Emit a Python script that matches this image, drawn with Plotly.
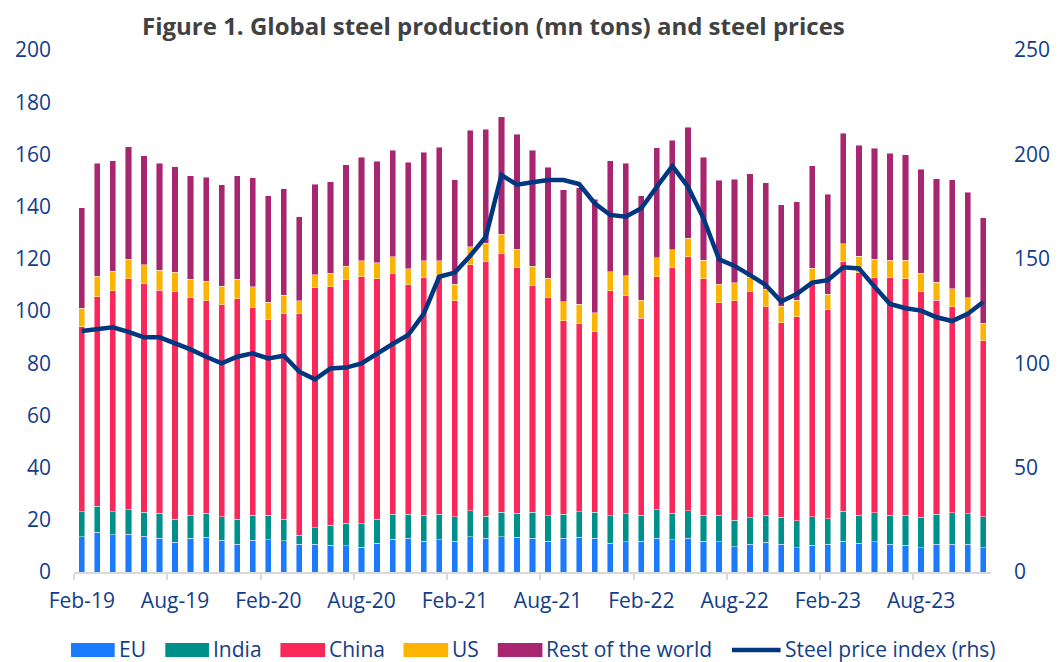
import plotly.graph_objects as go

months = ["Feb-19", "Mar-19", "Apr-19", "May-19", "Jun-19", "Jul-19", "Aug-19", "Sep-19", "Oct-19", "Nov-19", "Dec-19",
          "Jan-20", "Feb-20", "Mar-20", "Apr-20", "May-20", "Jun-20", "Jul-20", "Aug-20", "Sep-20", "Oct-20", "Nov-20", "Dec-20",
          "Jan-21", "Feb-21", "Mar-21", "Apr-21", "May-21", "Jun-21", "Jul-21", "Aug-21", "Sep-21", "Oct-21", "Nov-21", "Dec-21",
          "Jan-22", "Feb-22", "Mar-22", "Apr-22", "May-22", "Jun-22", "Jul-22", "Aug-22", "Sep-22", "Oct-22", "Nov-22", "Dec-22",
          "Jan-23", "Feb-23", "Mar-23", "Apr-23", "May-23", "Jun-23", "Jul-23", "Aug-23", "Sep-23", "Oct-23", "Nov-23", "Dec-23"]

tick_labels = ["Feb-19", "Aug-19", "Feb-20", "Aug-20", "Feb-21", "Aug-21", "Feb-22", "Aug-22", "Feb-23", "Aug-23"]

eu = [13.5, 15.2, 14.2, 14.4, 13.7, 12.9, 11.4, 12.9, 13.3, 12.1, 10.7, 12.1, 12.3, 12.0, 10.7, 10.7, 10.2, 10.0, 9.5, 11.1,
      12.6, 12.9, 11.8, 12.3, 11.8, 13.5, 12.9, 13.5, 13.3, 12.9, 11.8, 12.9, 13.4, 12.9, 11.1, 11.5, 11.8, 12.9, 12.3, 12.9,
      11.8, 11.6, 9.7, 10.7, 11.4, 10.6, 9.2, 10.2, 10.6, 11.8, 11.0, 11.6, 10.7, 10.2, 9.2, 10.7, 10.7, 10.7, 9.2]
india = [9.5, 10.0, 8.8, 9.4, 9.2, 9.6, 8.8, 8.8, 9.2, 9.0, 9.5, 9.6, 9.4, 8.2, 3.3, 6.2, 7.7, 8.6, 8.9, 9.1,
         9.6, 9.3, 9.9, 9.9, 9.3, 10.0, 8.4, 9.4, 9.2, 10.0, 9.8, 9.3, 9.7, 10.0, 10.5, 10.8, 10.0, 10.9, 10.2, 10.6,
         10.0, 10.2, 10.2, 10.0, 10.3, 10.3, 10.5, 11.0, 9.8, 11.5, 10.7, 11.1, 11.0, 11.5, 11.7, 11.5, 12.0, 11.6, 12.0]
china = [70.9, 80.3, 84.8, 88.5, 87.6, 85.5, 87.2, 83.4, 81.5, 81.3, 84.4, 79.8, 75.0, 78.8, 85.0, 92.0, 91.4, 93.4, 94.7, 92.2,
         92.2, 87.9, 91.1, 91.5, 82.9, 94.2, 97.6, 99.2, 94.1, 86.8, 83.5, 74.1, 72.0, 69.1, 86.2, 83.8, 75.5, 89.3, 94.0, 97.3,
         90.6, 81.4, 84.1, 86.8, 80.0, 74.6, 78.1, 89.7, 80.0, 95.5, 93.0, 90.1, 91.1, 90.7, 86.5, 82.0, 79.0, 76.8, 67.4]
us = [7.2, 7.8, 7.4, 7.5, 7.2, 7.6, 7.5, 7.0, 7.4, 7.1, 7.5, 7.7, 6.7, 7.1, 4.9, 4.9, 5.1, 5.2, 6.1, 6.0,
      6.3, 6.0, 6.4, 5.5, 6.3, 6.9, 7.0, 7.3, 7.0, 7.4, 7.4, 7.3, 7.5, 7.4, 7.3, 7.4, 6.8, 7.3, 7.0, 7.0,
      7.0, 7.0, 6.9, 5.5, 6.7, 6.4, 6.4, 5.4, 6.1, 6.9, 6.3, 7.0, 6.7, 7.0, 7.0, 6.8, 6.8, 5.9, 6.8]
rest_of_world = [38.5, 43.3, 42.4, 43.2, 41.8, 41.1, 40.4, 39.7, 39.8, 38.9, 39.7, 41.8, 40.7, 40.8, 32.2, 34.7, 35.2, 38.9, 39.8, 38.9,
                 40.9, 40.9, 41.7, 43.6, 39.9, 44.6, 43.7, 45.1, 44.2, 44.5, 42.5, 42.8, 44.7, 43.5, 42.5, 43.2, 40.0, 42.1, 42.0, 42.7,
                 39.6, 39.9, 39.5, 39.6, 40.8, 38.8, 37.7, 39.4, 38.2, 42.4, 42.6, 42.5, 41.0, 40.5, 39.9, 39.7, 41.8, 40.5, 40.3]
steel_price = [115.4, 116.2, 117.2, 115.0, 112.4, 112.4, 109.5, 106.6, 103.1, 99.9, 103.1, 104.7, 102.3, 103.6, 95.9, 92.3,
               97.5, 97.9, 99.9, 104.7, 109.2, 113.5, 123.6, 141.4, 143.4, 151.5, 160.6, 190.1, 185.5, 186.7, 187.7, 187.7,
               185.8, 176.6, 171.0, 170.2, 174.2, 184.5, 194.4, 184.5, 169.4, 149.8, 146.6, 142.2, 137.5, 129.5, 133.1, 138.6,
               139.8, 145.9, 145.4, 136.7, 128.4, 126.3, 125.2, 122.0, 120.2, 123.6, 129.3]

series_names = ["EU", "India", "China", "US", "Rest of the world"]
series_values = [eu, india, china, us, rest_of_world]
series_colors = ["#1b7bff", "#00908b", "#f9285b", "#fdb400", "#a8266f"]
line_color = "#003781"
text_color = "#133d88"
FONT = "Open Sans"
FS = 21

W, H = 1062, 662
ML, MR, MT, MB = 74, 64, 50, 90
PW, PH = W - ML - MR, H - MT - MB

def px_x(p):
    return (p - ML) / PW

def px_y(p):
    return (H - MB - p) / PH

idx = list(range(len(months)))
tickvals = [months.index(m) for m in tick_labels]

fig = go.Figure()
for name, vals, col in zip(series_names, series_values, series_colors):
    fig.add_trace(go.Bar(x=idx, y=vals, name=name, marker_color=col,
                         marker_line=dict(color="rgba(255,255,255,0.55)", width=0.8),
                         customdata=months, hovertemplate="%{customdata}: %{y}<extra>" + name + "</extra>"))

fig.add_trace(go.Scatter(x=idx, y=steel_price, name="Steel price index (rhs)", yaxis="y2",
                         mode="lines", line=dict(color=line_color, width=4.5),
                         customdata=months, hovertemplate="%{customdata}: %{y}<extra></extra>"))

fig.update_layout(
    width=W, height=H,
    margin=dict(l=ML, r=MR, t=MT, b=MB),
    paper_bgcolor="white", plot_bgcolor="white",
    barmode="stack", bargap=0.6,
    showlegend=False,
    font=dict(family=FONT, size=FS, color=text_color),
    xaxis=dict(range=[-0.5, len(months) - 0.5], tickmode="array", tickvals=tickvals, ticktext=tick_labels,
               ticks="", showgrid=False, zeroline=False, showline=True, linecolor="#d9d9d9", linewidth=2,
               ticklabelstandoff=9, tickfont=dict(size=FS, color=text_color),
               minor=dict(ticks="outside", ticklen=6, tickwidth=2, tickcolor="#d9d9d9",
                          tickmode="array", tickvals=[v - 0.5 for v in tickvals], showgrid=False)),
    yaxis=dict(range=[0, 200], tickmode="array", tickvals=list(range(0, 201, 20)), showgrid=False,
               zeroline=False, showline=False, ticks="", ticklabelstandoff=22,
               tickfont=dict(size=FS, color=text_color)),
    yaxis2=dict(range=[0, 250], tickmode="array", tickvals=list(range(0, 251, 50)), overlaying="y",
                side="right", showgrid=False, zeroline=False, showline=False, ticks="", ticklabelstandoff=22,
                tickfont=dict(size=FS, color=text_color)),
)

annotations = [dict(text="<b>Figure 1. Global steel production (mn tons) and steel prices</b>",
                    x=px_x(497), y=px_y(25), xref="paper", yref="paper", xanchor="center", yanchor="middle",
                    showarrow=False, font=dict(family=FONT, size=24, color="#414141"))]
shapes = []

legend_items = [("EU", 71, 115, "rect"), ("India", 166, 210, "rect"), ("China", 282, 327, "rect"),
                ("US", 406, 451, "rect"), ("Rest of the world", 501, 546, "rect"),
                ("Steel price index (rhs)", 737, 786, "line")]
color_map = dict(zip(series_names, series_colors))
ly = 650
for label, x0, x1, kind in legend_items:
    if kind == "rect":
        shapes.append(dict(type="rect", xref="paper", yref="paper", x0=px_x(x0), x1=px_x(x1),
                           y0=px_y(ly - 7), y1=px_y(ly + 7), fillcolor=color_map[label], line=dict(width=0)))
    else:
        shapes.append(dict(type="line", xref="paper", yref="paper", x0=px_x(x0), x1=px_x(x1),
                           y0=px_y(ly), y1=px_y(ly), line=dict(color=line_color, width=4.5)))
    annotations.append(dict(text=label, x=px_x(x1 + 3), y=px_y(ly - 1), xref="paper", yref="paper",
                            xanchor="left", yanchor="middle", showarrow=False, borderpad=0,
                            font=dict(family=FONT, size=FS, color=text_color)))

fig.update_layout(annotations=annotations, shapes=shapes)
fig.write_html("out.html", config={"displayModeBar": False},
               post_script="document.body.style.margin='0px';document.body.style.padding='0px';")
